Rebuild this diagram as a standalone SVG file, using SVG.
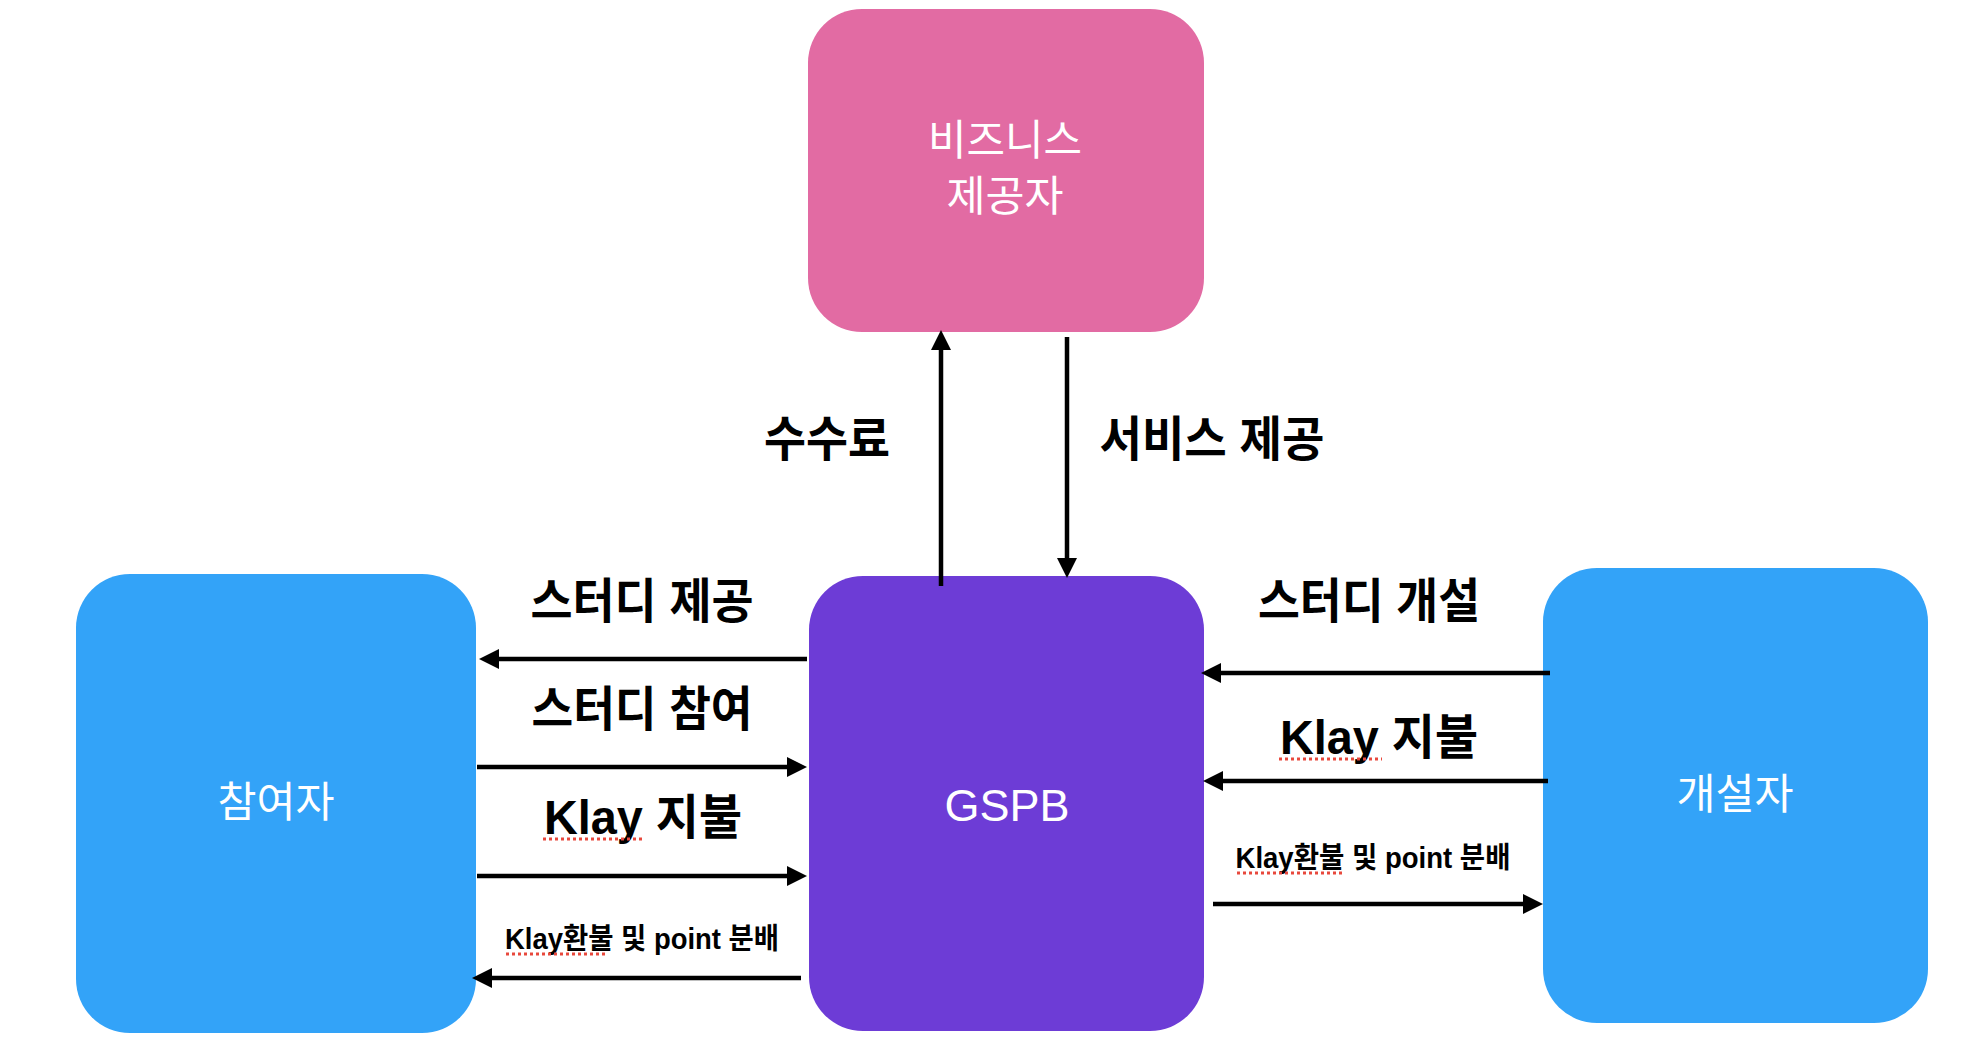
<svg xmlns="http://www.w3.org/2000/svg" width="1988" height="1058" viewBox="0 0 1988 1058">
<style>
.node-label{font-family:"Liberation Sans","Noto Sans CJK KR",sans-serif;fill:#ffffff;font-weight:400;text-anchor:middle}
.lbl{font-family:"Liberation Sans","Noto Sans CJK KR",sans-serif;fill:#000000;font-weight:700;text-anchor:middle}
.big{font-size:48px}
.small{font-size:29px}
.conn{stroke:#000000;stroke-width:4.5;fill:none}
.spell{stroke:#E8483C;stroke-width:3;stroke-dasharray:3 3;fill:none}
</style>
<defs>
<marker id="ah" markerUnits="userSpaceOnUse" viewBox="0 0 20 20" markerWidth="20" markerHeight="20" refX="0" refY="10" orient="auto">
<path d="M0,0 L20,10 L0,20 z" fill="#000000"/>
</marker>
</defs>
<rect width="1988" height="1058" fill="#ffffff"/>

<g id="business">
<rect x="808" y="9" width="396" height="323" rx="54" ry="54" fill="#E26BA3"/>
<text class="node-label" x="1005" y="155" font-size="42" textLength="154" lengthAdjust="spacingAndGlyphs">비즈니스</text>
<text class="node-label" x="1005" y="211" font-size="42" textLength="117" lengthAdjust="spacingAndGlyphs">제공자</text>
</g>

<g id="gspb">
<rect x="809" y="576" width="395" height="455" rx="54" ry="54" fill="#6D3CD6"/>
<text class="node-label" x="1007" y="821" font-size="45">GSPB</text>
</g>

<g id="participant">
<rect x="76" y="574" width="400" height="459" rx="54" ry="54" fill="#33A3F8"/>
<text class="node-label" x="276" y="817" font-size="42" textLength="117" lengthAdjust="spacingAndGlyphs">참여자</text>
</g>

<g id="founder">
<rect x="1543" y="568" width="385" height="455" rx="54" ry="54" fill="#33A3F8"/>
<text class="node-label" x="1735" y="809" font-size="42" textLength="117" lengthAdjust="spacingAndGlyphs">개설자</text>
</g>

<g id="connectors">
<line class="conn" x1="941" y1="586" x2="941" y2="350" marker-end="url(#ah)"/>
<line class="conn" x1="1067" y1="337" x2="1067" y2="558" marker-end="url(#ah)"/>
<line class="conn" x1="807" y1="659" x2="499" y2="659" marker-end="url(#ah)"/>
<line class="conn" x1="477" y1="767" x2="787" y2="767" marker-end="url(#ah)"/>
<line class="conn" x1="477" y1="876" x2="787" y2="876" marker-end="url(#ah)"/>
<line class="conn" x1="801" y1="978" x2="492" y2="978" marker-end="url(#ah)"/>
<line class="conn" x1="1550" y1="673" x2="1221" y2="673" marker-end="url(#ah)"/>
<line class="conn" x1="1548" y1="781" x2="1223" y2="781" marker-end="url(#ah)"/>
<line class="conn" x1="1213" y1="904" x2="1523" y2="904" marker-end="url(#ah)"/>
</g>

<g id="connector-labels">
<text class="lbl big" x="827" y="456" textLength="126" lengthAdjust="spacingAndGlyphs">수수료</text>
<text class="lbl big" x="1212" y="456" textLength="225" lengthAdjust="spacingAndGlyphs">서비스 제공</text>
<text class="lbl big" x="642" y="618" textLength="223" lengthAdjust="spacingAndGlyphs">스터디 제공</text>
<text class="lbl big" x="642" y="726" textLength="221" lengthAdjust="spacingAndGlyphs">스터디 참여</text>
<text class="lbl big" x="643" y="834" textLength="198" lengthAdjust="spacingAndGlyphs">Klay 지불</text>
<text class="lbl small" x="642" y="949" textLength="274" lengthAdjust="spacingAndGlyphs">Klay환불 및 point 분배</text>
<text class="lbl big" x="1369" y="618" textLength="222" lengthAdjust="spacingAndGlyphs">스터디 개설</text>
<text class="lbl big" x="1379" y="754" textLength="198" lengthAdjust="spacingAndGlyphs">Klay 지불</text>
<text class="lbl small" x="1373" y="868" textLength="275" lengthAdjust="spacingAndGlyphs">Klay환불 및 point 분배</text>
<line class="spell" x1="543" y1="839" x2="645" y2="839"/>
<line class="spell" x1="1279" y1="759" x2="1382" y2="759"/>
<line class="spell" x1="506" y1="954" x2="608" y2="954"/>
<line class="spell" x1="1237" y1="873" x2="1342" y2="873"/>
</g>
</svg>
